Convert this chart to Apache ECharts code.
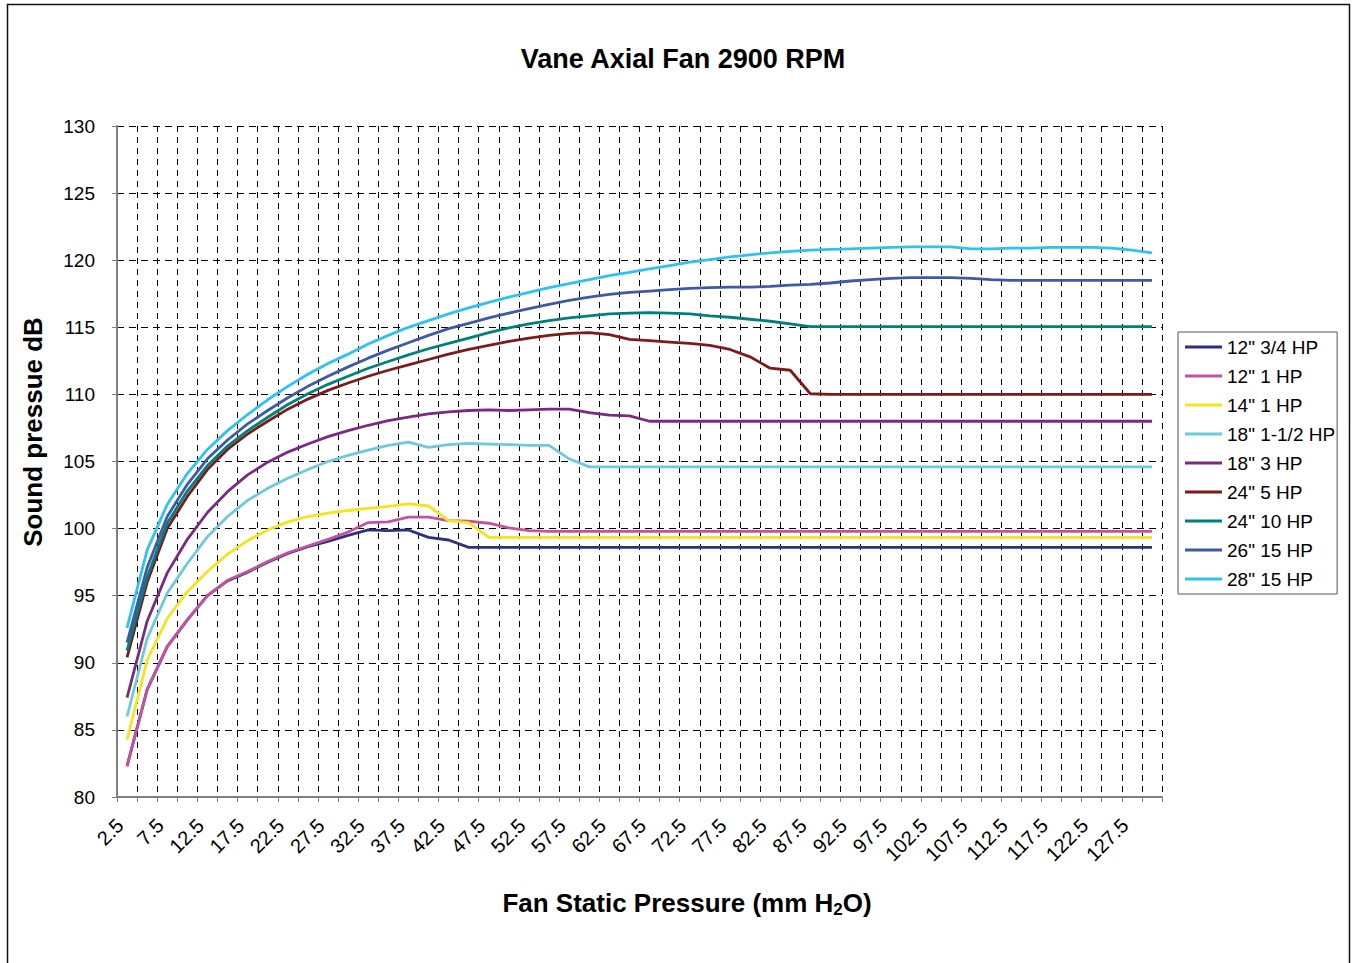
<!DOCTYPE html>
<html>
<head>
<meta charset="utf-8">
<script src="https://cdn.jsdelivr.net/npm/echarts@6/dist/echarts.min.js"></script>
<style>
html,body{margin:0;padding:0;background:#fff;}
#chart{width:1352px;height:963px;}
</style>
</head>
<body>
<div id="chart"></div>
<script>
const categories = ['2.5','5','7.5','10','12.5','15','17.5','20','22.5','25',
  '27.5','30','32.5','35','37.5','40','42.5','45','47.5','50',
  '52.5','55','57.5','60','62.5','65','67.5','70','72.5','75',
  '77.5','80','82.5','85','87.5','90','92.5','95','97.5','100',
  '102.5','105','107.5','110','112.5','115','117.5','120','122.5','125',
  '127.5','130'];

const seriesNames = ['12" 3/4 HP','12" 1 HP','14" 1 HP','18" 1-1/2 HP','18" 3 HP','24" 5 HP','24" 10 HP','26" 15 HP','28" 15 HP'];

const fan12_075 = [82.3, 88.0, 91.2, 93.2, 95.0, 96.1, 96.75, 97.5, 98.15, 98.65,
  99.05, 99.5, 99.9, 99.85, 99.9, 99.35, 99.15, 98.6, 98.6, 98.6,
  98.6, 98.6, 98.6, 98.6, 98.6, 98.6, 98.6, 98.6, 98.6, 98.6,
  98.6, 98.6, 98.6, 98.6, 98.6, 98.6, 98.6, 98.6, 98.6, 98.6,
  98.6, 98.6, 98.6, 98.6, 98.6, 98.6, 98.6, 98.6, 98.6, 98.6,
  98.6, 98.6];
const fan12_1 = [82.3, 88.0, 91.2, 93.2, 95.0, 96.15, 96.8, 97.55, 98.2, 98.7,
  99.2, 99.75, 100.45, 100.5, 100.85, 100.85, 100.6, 100.55, 100.4, 100.05,
  99.85, 99.8, 99.8, 99.8, 99.8, 99.8, 99.8, 99.8, 99.8, 99.8,
  99.8, 99.8, 99.8, 99.8, 99.8, 99.8, 99.8, 99.8, 99.8, 99.8,
  99.8, 99.8, 99.8, 99.8, 99.8, 99.8, 99.8, 99.8, 99.8, 99.8,
  99.8, 99.8];
const fan14_1 = [84.25, 90.2, 93.3, 95.3, 96.8, 98.1, 99.1, 99.9, 100.5, 100.9,
  101.15, 101.35, 101.5, 101.65, 101.85, 101.7, 100.6, 100.45, 99.35, 99.35,
  99.35, 99.35, 99.35, 99.35, 99.35, 99.35, 99.35, 99.35, 99.35, 99.35,
  99.35, 99.35, 99.35, 99.35, 99.35, 99.35, 99.35, 99.35, 99.35, 99.35,
  99.35, 99.35, 99.35, 99.35, 99.35, 99.35, 99.35, 99.35, 99.35, 99.35,
  99.35, 99.35];
const fan18_15 = [86.0, 91.8, 95.2, 97.4, 99.4, 100.9, 102.1, 103.0, 103.75, 104.4,
  105.0, 105.45, 105.85, 106.2, 106.45, 106.05, 106.25, 106.35, 106.3, 106.25,
  106.2, 106.2, 105.2, 104.6, 104.6, 104.6, 104.6, 104.6, 104.6, 104.6,
  104.6, 104.6, 104.6, 104.6, 104.6, 104.6, 104.6, 104.6, 104.6, 104.6,
  104.6, 104.6, 104.6, 104.6, 104.6, 104.6, 104.6, 104.6, 104.6, 104.6,
  104.6, 104.6];
const fan18_3 = [87.4, 93.1, 96.7, 99.2, 101.2, 102.75, 104.0, 104.95, 105.7, 106.3,
  106.85, 107.3, 107.7, 108.05, 108.3, 108.55, 108.7, 108.8, 108.85, 108.8,
  108.85, 108.9, 108.9, 108.65, 108.45, 108.4, 108.0, 108.0, 108.0, 108.0,
  108.0, 108.0, 108.0, 108.0, 108.0, 108.0, 108.0, 108.0, 108.0, 108.0,
  108.0, 108.0, 108.0, 108.0, 108.0, 108.0, 108.0, 108.0, 108.0, 108.0,
  108.0, 108.0];
const fan24_5 = [90.4, 96.0, 100.0, 102.4, 104.4, 105.9, 107.05, 108.0, 108.9, 109.65,
  110.3, 110.85, 111.35, 111.8, 112.2, 112.6, 113.0, 113.35, 113.65, 113.95,
  114.2, 114.4, 114.55, 114.6, 114.45, 114.1, 114.0, 113.9, 113.8, 113.65,
  113.35, 112.8, 111.95, 111.8, 110.05, 110.0, 110.0, 110.0, 110.0, 110.0,
  110.0, 110.0, 110.0, 110.0, 110.0, 110.0, 110.0, 110.0, 110.0, 110.0,
  110.0, 110.0];
const fan24_10 = [90.9, 96.4, 100.4, 102.8, 104.7, 106.15, 107.3, 108.3, 109.25, 110.05,
  110.75, 111.35, 111.95, 112.45, 112.95, 113.4, 113.8, 114.2, 114.6, 114.95,
  115.25, 115.5, 115.7, 115.85, 116.0, 116.05, 116.1, 116.05, 116.0, 115.85,
  115.75, 115.6, 115.45, 115.25, 115.05, 115.05, 115.05, 115.05, 115.05, 115.05,
  115.05, 115.05, 115.05, 115.05, 115.05, 115.05, 115.05, 115.05, 115.05, 115.05,
  115.05, 115.05];
const fan26_15 = [91.5, 97.1, 100.9, 103.3, 105.2, 106.6, 107.8, 108.8, 109.75, 110.6,
  111.35, 112.05, 112.7, 113.3, 113.85, 114.4, 114.9, 115.3, 115.7, 116.05,
  116.4, 116.7, 117.0, 117.25, 117.45, 117.6, 117.7, 117.8, 117.9, 117.95,
  118.0, 118.0, 118.05, 118.15, 118.2, 118.3, 118.45, 118.55, 118.65, 118.7,
  118.7, 118.7, 118.65, 118.55, 118.5, 118.5, 118.5, 118.5, 118.5, 118.5,
  118.5, 118.5];
const fan28_15 = [92.6, 98.4, 101.8, 104.1, 105.9, 107.3, 108.5, 109.6, 110.6, 111.5,
  112.3, 113.0, 113.75, 114.4, 115.0, 115.5, 116.0, 116.45, 116.85, 117.25,
  117.6, 117.95, 118.25, 118.55, 118.85, 119.1, 119.35, 119.6, 119.85, 120.05,
  120.25, 120.4, 120.55, 120.65, 120.75, 120.8, 120.85, 120.9, 120.95, 121.0,
  121.0, 121.0, 120.85, 120.85, 120.9, 120.9, 120.95, 120.95, 120.95, 120.9,
  120.75, 120.55];

const yTicks = {min: 80, max: 130, step: 5};
const titleText = 'Vane Axial Fan 2900 RPM';
const yAxisTitle = 'Sound pressue dB';

const seriesData = [fan12_075, fan12_1, fan14_1, fan18_15, fan18_3, fan24_5, fan24_10, fan26_15, fan28_15];
const colors = ['#2D2F80', '#C4529F', '#F4E41C', '#6BCBDB', '#7B2A83', '#7F1A1A', '#00807A', '#3F58A8', '#2EC2F0'];

const FONT = '"Liberation Sans", Arial, sans-serif';
const chart = echarts.init(document.getElementById('chart'), null, {renderer: 'svg'});

const option = {
  backgroundColor: '#fff',
  animation: false,
  color: colors,
  textStyle: {fontFamily: FONT, color: '#000'},
  title: {
    text: titleText,
    left: 678, top: 40, textAlign: 'center',
    textStyle: {fontFamily: FONT, fontSize: 27, fontWeight: 'bold', color: '#000'}
  },
  legend: {
    orient: 'vertical',
    left: 1178, top: 332,
    padding: [4, 2, 4, 7],
    itemGap: 7,
    itemWidth: 37, itemHeight: 3,
    icon: 'rect',
    backgroundColor: '#fff',
    borderColor: '#555', borderWidth: 1,
    textStyle: {fontFamily: FONT, fontSize: 19, color: '#000', lineHeight: 22},
    data: seriesNames
  },
  grid: {left: 117, top: 126, width: 1045, height: 671, containLabel: false},
  xAxis: {
    type: 'category',
    data: categories,
    boundaryGap: true,
    axisLine: {lineStyle: {color: '#808080', width: 2}},
    axisTick: {show: true, interval: 0, length: 5, lineStyle: {color: '#808080', width: 1}},
    axisLabel: {interval: 1, rotate: 45, fontSize: 20, fontFamily: FONT, color: '#000', margin: 18, padding: [0, 10, 0, 0]},
    splitLine: {show: true, interval: 0, lineStyle: {color: '#000', width: 1, type: [6, 5]}}
  },
  yAxis: {
    type: 'value',
    min: yTicks.min, max: yTicks.max, interval: yTicks.step,
    axisLine: {show: true, lineStyle: {color: '#808080', width: 2}},
    axisTick: {show: true, length: 5, lineStyle: {color: '#808080'}},
    axisLabel: {fontSize: 19, fontFamily: FONT, color: '#000', margin: 22},
    splitLine: {show: true, lineStyle: {color: '#000', width: 1, type: [7, 5]}}
  },
  graphic: [
    {type: 'rect', silent: true, z: -10,
      shape: {x: 7.5, y: 4.5, width: 1342, height: 980},
      style: {fill: 'none', stroke: '#111', lineWidth: 1.5}},
    {type: 'text', silent: true, x: 33, y: 432, rotation: Math.PI / 2,
      style: {text: yAxisTitle, fontFamily: FONT, fontSize: 26, fontWeight: 'bold', fill: '#000', align: 'center', verticalAlign: 'middle'}},
    {type: 'text', silent: true, x: 687, y: 903,
      style: {
        text: '{a|Fan Static Pressure (mm H}{s|2}{a|O)}',
        align: 'center', verticalAlign: 'middle',
        rich: {
          a: {fontFamily: FONT, fontSize: 26, fontWeight: 'bold', fill: '#000', lineHeight: 30, verticalAlign: 'middle'},
          s: {fontFamily: FONT, fontSize: 17, fontWeight: 'bold', fill: '#000', lineHeight: 30, verticalAlign: 'bottom', padding: [22, 0, 0, 0]}
        }
      }}
  ],
  series: seriesNames.map((n, k) => ({
    name: n,
    type: 'line',
    data: seriesData[k],
    showSymbol: false,
    symbol: 'none',
    lineStyle: {width: 2.8, color: colors[k]},
    itemStyle: {color: colors[k]}
  }))
};
chart.setOption(option);
</script>
</body>
</html>
